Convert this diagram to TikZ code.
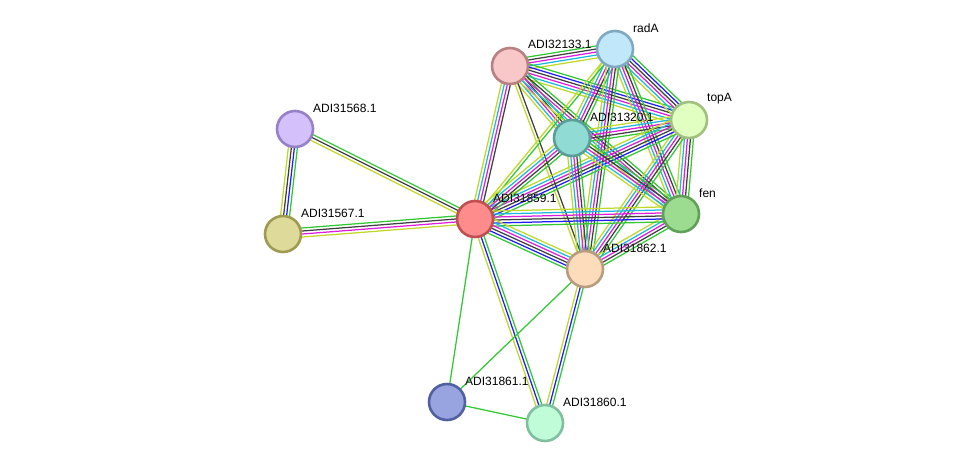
\documentclass[tikz,border=0pt]{standalone}
\usepackage{fontspec}
\setmainfont{Liberation Sans}
\usepackage[outline]{contour}
\contourlength{1.2pt}
\usetikzlibrary{calc,backgrounds}
\pgfdeclarelayer{edgelayer}
\pgfsetlayers{background,edgelayer,main}
\definecolor{sgreen}{RGB}{50,200,50}
\definecolor{sblue}{RGB}{30,30,250}
\definecolor{sblack}{RGB}{64,64,64}
\definecolor{smag}{RGB}{222,30,222}
\definecolor{scyan}{RGB}{30,184,222}
\definecolor{syel}{RGB}{192,216,40}
\newcommand\medge[3]{%
  \xdef\ecnt{0}%
  \foreach \ecol in {#3}{\xdef\ecnt{\the\numexpr\ecnt+1\relax}}%
  \foreach \ecol [count=\ei] in {#3}{%
    \pgfmathsetmacro\eoff{(\ei-(\ecnt+1)/2)*3.0}%
    \draw[edge,\ecol] ($(#1.center)!\eoff pt!-90:(#2.center)$) -- ($(#2.center)!\eoff pt!90:(#1.center)$);
  }}
\tikzset{
  prot/.style={circle,minimum size=36pt,inner sep=0pt,line width=2.6pt},
  lab/.style={anchor=west,font=\fontsize{12}{14}\selectfont,inner sep=0pt,text=black},
  edge/.style={line width=1.25pt},
}
\newcommand\lbl[1]{\contour{white}{#1}}
\begin{document}
\begin{tikzpicture}[x=1pt,y=-1pt]
\begin{pgfonlayer}{background}
\fill[white] (0,0) rectangle (976,469);
\end{pgfonlayer}
\useasboundingbox (0,0) rectangle (976,469);
\node[prot,fill={rgb,255:red,212;green,192;blue,250},draw={rgb,255:red,150;green,128;blue,200}] (n68) at (295,129) {};
\node[prot,fill={rgb,255:red,222;green,219;blue,154},draw={rgb,255:red,158;green,154;blue,82}] (n67) at (283,234) {};
\node[prot,fill={rgb,255:red,255;green,140;blue,140},draw={rgb,255:red,192;green,80;blue,80}] (n59) at (475,219) {};
\node[prot,fill={rgb,255:red,248;green,200;blue,200},draw={rgb,255:red,184;green,128;blue,128}] (n33) at (510,66) {};
\node[prot,fill={rgb,255:red,192;green,232;blue,250},draw={rgb,255:red,128;green,168;blue,192}] (rad) at (615,49) {};
\node[prot,fill={rgb,255:red,224;green,255;blue,192},draw={rgb,255:red,160;green,192;blue,128}] (top) at (689,120) {};
\node[prot,fill={rgb,255:red,144;green,220;blue,212},draw={rgb,255:red,90;green,158;blue,152}] (n20) at (572,138) {};
\node[prot,fill={rgb,255:red,156;green,220;blue,144},draw={rgb,255:red,96;green,160;blue,88}] (fen) at (681,214) {};
\node[prot,fill={rgb,255:red,253;green,220;blue,188},draw={rgb,255:red,184;green,156;blue,128}] (n62) at (585,269) {};
\node[prot,fill={rgb,255:red,152;green,164;blue,224},draw={rgb,255:red,80;green,96;blue,160}] (n61) at (447,402) {};
\node[prot,fill={rgb,255:red,192;green,252;blue,216},draw={rgb,255:red,128;green,192;blue,160}] (n60) at (545,423) {};
\begin{pgfonlayer}{edgelayer}
\medge{n68}{n67}{sgreen,sblue,sblack,syel}
\medge{n68}{n59}{sgreen,sblack,syel}
\medge{n67}{n59}{sgreen,sblack,smag,syel}
\medge{n59}{n61}{sgreen}
\medge{n59}{n60}{sgreen,sblue,syel}
\medge{n62}{n60}{sgreen,sblue,syel}
\medge{n62}{n61}{sgreen}
\medge{n61}{n60}{sgreen}
\medge{n33}{rad}{sgreen,sblack,smag,scyan,syel}
\medge{n33}{top}{sgreen,sblue,sblack,smag,scyan,syel}
\medge{n33}{n20}{sgreen,sblack,smag,scyan,syel}
\medge{n33}{fen}{sgreen,sblack,smag,scyan,syel}
\medge{n33}{n62}{sblack,syel}
\medge{n33}{n59}{sblack,smag,scyan,syel}
\medge{rad}{top}{sgreen,sblue,sblack,smag,scyan,syel}
\medge{rad}{n20}{sgreen,sblack,smag,scyan,syel}
\medge{rad}{fen}{sgreen,sblack,smag,scyan,syel}
\medge{rad}{n62}{sgreen,sblack,smag,scyan,syel}
\medge{rad}{n59}{sgreen,syel}
\medge{top}{n20}{sgreen,sblack,smag,scyan,syel}
\medge{top}{fen}{sgreen,sblack,smag,scyan,syel}
\medge{top}{n62}{sgreen,sblack,smag,scyan,syel}
\medge{top}{n59}{sgreen,sblue,sblack,smag,scyan,syel}
\medge{n20}{fen}{sgreen,sblack,smag,scyan,syel}
\medge{n20}{n62}{sgreen,sblack,smag,scyan,syel}
\medge{n20}{n59}{sgreen,sblack,smag,scyan,syel}
\medge{fen}{n62}{sgreen,sblack,smag,scyan,syel}
\medge{fen}{n59}{sgreen,sblue,sblack,smag,scyan,syel}
\medge{n62}{n59}{sgreen,sblue,sblack,smag,scyan,syel}
\end{pgfonlayer}
\node[lab] (l68) at ($(n68)+(18,-21)$) {\lbl{ADI31568.1}};
\node[lab] (l67) at ($(n67)+(18,-21)$) {\lbl{ADI31567.1}};
\node[lab] (l59) at ($(n59)+(18,-21)$) {\lbl{ADI31859.1}};
\node[lab] (l33) at ($(n33)+(18,-22)$) {\lbl{ADI32133.1}};
\node[lab] (lrad) at ($(rad)+(18,-21)$) {\lbl{radA}};
\node[lab] (ltop) at ($(top)+(18,-21)$) {\lbl{topA}};
\node[lab] (l20) at ($(n20)+(18,-21)$) {\lbl{ADI31320.1}};
\node[lab] (lfen) at ($(fen)+(18,-21)$) {\lbl{fen}};
\node[lab] (l62) at ($(n62)+(18,-21)$) {\lbl{ADI31862.1}};
\node[lab] (l61) at ($(n61)+(18,-21)$) {\lbl{ADI31861.1}};
\node[lab] (l60) at ($(n60)+(18,-21)$) {\lbl{ADI31860.1}};
\end{tikzpicture}
\end{document}
